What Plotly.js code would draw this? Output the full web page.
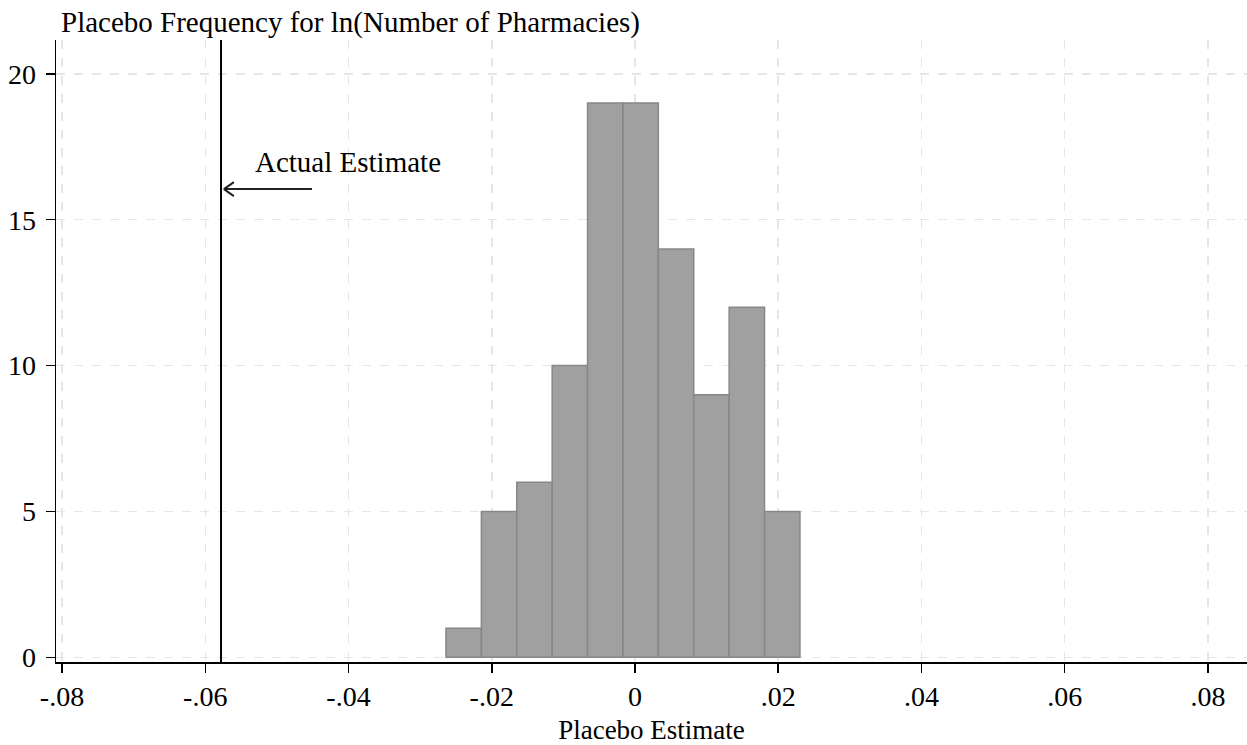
<!DOCTYPE html>
<html>
<head>
<meta charset="utf-8">
<script src="https://cdn.plot.ly/plotly-3.0.1.min.js"></script>
<style>html,body{margin:0;padding:0;background:#fff;}#chart{width:1247px;height:745px;}</style>
</head>
<body>
<div id="chart"></div>
<script>
// Data
var binStart = -0.02639;
var binWidth = 0.004942;
var frequencies = [1, 5, 6, 10, 19, 19, 14, 9, 12, 5];
var actualEstimate = -0.0578;
var xTickVals = [-0.08, -0.06, -0.04, -0.02, 0, 0.02, 0.04, 0.06, 0.08];
var xTickText = ['-.08', '-.06', '-.04', '-.02', '0', '.02', '.04', '.06', '.08'];
var yTickVals = [0, 5, 10, 15, 20];
var labelText = 'Actual Estimate';
var labelPos = {x: -0.0534, y: 16.98};
var arrowTail = {x: -0.0451, y: 16.05};

var centers = frequencies.map(function (_, i) { return binStart + binWidth * (i + 0.5); });

var FONT = 'Liberation Serif, Times New Roman, serif';

var traces = [{
  type: 'bar',
  x: centers,
  y: frequencies,
  width: binWidth,
  marker: {color: '#a0a0a0', line: {color: '#878787', width: 1.5}},
  hoverinfo: 'x+y'
}];

var arrowTip = {x: actualEstimate + 0.0004, y: arrowTail.y};

var layout = {
  width: 1247,
  height: 745,
  margin: {l: 56, r: 0, t: 40, b: 83},
  paper_bgcolor: '#ffffff',
  plot_bgcolor: '#ffffff',
  showlegend: false,
  bargap: 0,
  font: {family: FONT, size: 28, color: '#000'},
  title: {
    text: 'Placebo Frequency for ln(Number of Pharmacies)',
    x: 61 / 1247, xanchor: 'left', xref: 'container',
    y: 1 - 22 / 745, yanchor: 'middle', yref: 'container',
    font: {family: FONT, size: 29, color: '#000'}
  },
  xaxis: {
    range: [-0.08084, 0.08545],
    tickvals: xTickVals,
    ticktext: xTickText,
    ticks: 'outside', ticklen: 9, tickwidth: 1.5, tickcolor: '#000',
    showline: true, linecolor: '#000', linewidth: 1.5,
    showgrid: true, gridcolor: '#e6e6e6', gridwidth: 1.5, griddash: 'dash',
    zeroline: false,
    tickfont: {family: FONT, size: 28, color: '#000'},
    title: {text: 'Placebo Estimate', standoff: 9, font: {family: FONT, size: 27, color: '#000'}}
  },
  yaxis: {
    range: [-0.161, 21.16],
    tickvals: yTickVals,
    ticks: 'outside', ticklen: 9, tickwidth: 1.5, tickcolor: '#000',
    ticklabelstandoff: 4,
    showline: true, linecolor: '#000', linewidth: 1.5,
    showgrid: true, gridcolor: '#e6e6e6', gridwidth: 1.5, griddash: 'dash',
    zeroline: false,
    tickfont: {family: FONT, size: 28, color: '#000'}
  },
  shapes: [
    {type: 'line', xref: 'x', yref: 'paper', x0: actualEstimate, x1: actualEstimate, y0: 0, y1: 1,
     line: {color: '#000', width: 2}},
    {type: 'line', xref: 'x', yref: 'y', x0: arrowTail.x, x1: arrowTip.x, y0: arrowTail.y, y1: arrowTip.y,
     line: {color: '#222', width: 2}},
    {type: 'line', xref: 'x', yref: 'y', xsizemode: 'pixel', ysizemode: 'pixel',
     xanchor: arrowTip.x, yanchor: arrowTip.y, x0: 0, x1: 10, y0: 0, y1: 7,
     line: {color: '#222', width: 2}},
    {type: 'line', xref: 'x', yref: 'y', xsizemode: 'pixel', ysizemode: 'pixel',
     xanchor: arrowTip.x, yanchor: arrowTip.y, x0: 0, x1: 10, y0: 0, y1: -7,
     line: {color: '#222', width: 2}}
  ],
  annotations: [
    {x: labelPos.x, y: labelPos.y, xref: 'x', yref: 'y', text: labelText, showarrow: false,
     xanchor: 'left', yanchor: 'middle', font: {family: FONT, size: 29, color: '#000'}}
  ]
};

Plotly.newPlot('chart', traces, layout, {displayModeBar: false, staticPlot: true});
</script>
</body>
</html>
